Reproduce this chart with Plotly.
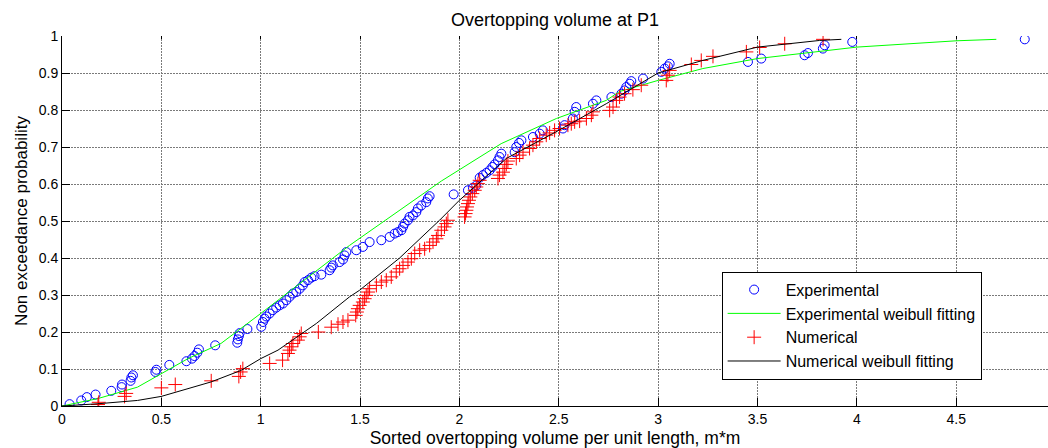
import plotly.graph_objects as go

# ---------------- data ----------------
exp_x = [0.038, 0.097, 0.125, 0.169, 0.248, 0.300, 0.302, 0.345, 0.349, 0.357,
         0.470, 0.475, 0.540, 0.626, 0.654, 0.667, 0.681, 0.689, 0.771, 0.882,
         0.885, 0.890, 0.894, 0.933, 1.003, 1.011, 1.020, 1.028, 1.045, 1.061,
         1.078, 1.095, 1.112, 1.129, 1.145, 1.162, 1.179, 1.196, 1.212, 1.221,
         1.238, 1.255, 1.271, 1.305, 1.347, 1.355, 1.363, 1.397, 1.414, 1.422,
         1.431, 1.481, 1.514, 1.548, 1.607, 1.649, 1.674, 1.690, 1.708, 1.716,
         1.724, 1.741, 1.749, 1.766, 1.783, 1.791, 1.808, 1.833, 1.841, 1.850,
         1.971, 2.043, 2.068, 2.085, 2.102, 2.118, 2.135, 2.152, 2.166, 2.177,
         2.194, 2.202, 2.211, 2.278, 2.286, 2.300, 2.312, 2.370, 2.404, 2.420,
         2.521, 2.529, 2.571, 2.580, 2.588, 2.672, 2.689, 2.765, 2.815, 2.831,
         2.840, 2.857, 2.865, 2.924, 3.016, 3.033, 3.049, 3.058, 3.452, 3.519,
         3.737, 3.754, 3.829, 3.838, 3.977, 4.845]
exp_y = [0.005, 0.015, 0.024, 0.031, 0.041, 0.051, 0.058, 0.068, 0.077, 0.083,
         0.092, 0.098, 0.111, 0.121, 0.128, 0.135, 0.144, 0.153, 0.164, 0.171,
         0.180, 0.189, 0.197, 0.208, 0.214, 0.227, 0.236, 0.242, 0.250, 0.259,
         0.266, 0.272, 0.277, 0.286, 0.295, 0.304, 0.308, 0.317, 0.326, 0.335,
         0.340, 0.347, 0.351, 0.355, 0.367, 0.374, 0.380, 0.389, 0.396, 0.407,
         0.416, 0.421, 0.430, 0.443, 0.448, 0.457, 0.466, 0.470, 0.475, 0.484,
         0.493, 0.502, 0.511, 0.515, 0.524, 0.534, 0.542, 0.551, 0.561, 0.567,
         0.572, 0.583, 0.590, 0.596, 0.617, 0.624, 0.630, 0.637, 0.646, 0.653,
         0.664, 0.673, 0.682, 0.686, 0.700, 0.711, 0.718, 0.727, 0.736, 0.745,
         0.750, 0.759, 0.777, 0.795, 0.808, 0.817, 0.826, 0.835, 0.844, 0.853,
         0.862, 0.871, 0.878, 0.885, 0.903, 0.912, 0.918, 0.925, 0.930, 0.939,
         0.948, 0.954, 0.966, 0.975, 0.984, 0.991]

num_x = [0.181, 0.185, 0.315, 0.323, 0.500, 0.570, 0.751, 0.890, 0.899, 0.910,
         1.045, 1.110, 1.137, 1.145, 1.154, 1.162, 1.187, 1.196, 1.204, 1.290,
         1.355, 1.389, 1.414, 1.439, 1.478, 1.484, 1.489, 1.498, 1.514, 1.523,
         1.531, 1.540, 1.548, 1.582, 1.607, 1.632, 1.657, 1.682, 1.699, 1.716,
         1.741, 1.758, 1.775, 1.800, 1.825, 1.850, 1.867, 1.884, 1.892, 1.909,
         1.925, 1.934, 1.942, 2.026, 2.031, 2.035, 2.038, 2.043, 2.048, 2.055,
         2.065, 2.077, 2.085, 2.093, 2.102, 2.194, 2.202, 2.219, 2.228, 2.236,
         2.244, 2.286, 2.303, 2.320, 2.353, 2.370, 2.387, 2.404, 2.437, 2.454,
         2.479, 2.504, 2.546, 2.563, 2.580, 2.605, 2.639, 2.664, 2.672, 2.756,
         2.773, 2.790, 2.806, 2.831, 2.873, 2.915, 3.041, 3.049, 3.058, 3.167,
         3.217, 3.276, 3.444, 3.511, 3.637, 3.830]
num_y = [0.004, 0.010, 0.026, 0.034, 0.049, 0.058, 0.068, 0.080, 0.092, 0.101,
         0.115, 0.124, 0.142, 0.151, 0.160, 0.169, 0.178, 0.187, 0.196, 0.200,
         0.213, 0.221, 0.227, 0.232, 0.245, 0.254, 0.263, 0.272, 0.281, 0.290,
         0.299, 0.308, 0.317, 0.326, 0.335, 0.340, 0.349, 0.362, 0.371, 0.380,
         0.389, 0.398, 0.412, 0.421, 0.425, 0.434, 0.443, 0.452, 0.461, 0.475,
         0.484, 0.493, 0.502, 0.511, 0.520, 0.529, 0.538, 0.547, 0.556, 0.565,
         0.574, 0.583, 0.592, 0.601, 0.610, 0.615, 0.624, 0.632, 0.642, 0.653,
         0.662, 0.669, 0.678, 0.686, 0.696, 0.705, 0.714, 0.723, 0.732, 0.738,
         0.745, 0.750, 0.759, 0.763, 0.768, 0.770, 0.777, 0.786, 0.795, 0.799,
         0.808, 0.826, 0.835, 0.844, 0.855, 0.867, 0.880, 0.894, 0.907, 0.923,
         0.934, 0.945, 0.957, 0.969, 0.979, 0.991]

expfit_x = [0, 0.18, 0.38, 0.533, 0.634, 0.80, 1.0, 1.447, 1.615, 1.909, 2.21,
            2.488, 2.739, 2.806, 3.0, 3.225, 3.5, 3.813, 4.0, 4.5, 4.702]
expfit_y = [0, 0.020, 0.051, 0.097, 0.128, 0.169, 0.250, 0.434, 0.497, 0.608, 0.709,
            0.777, 0.826, 0.850, 0.880, 0.912, 0.939, 0.959, 0.970, 0.987, 0.991]

numfit_x = [0, 0.18, 0.38, 0.5, 0.75, 0.90, 1.0, 1.087, 1.28, 1.447, 1.498, 1.699,
            1.9, 2.0, 2.236, 2.5, 2.739, 2.84, 3.0, 3.225, 3.5, 3.813, 3.922]
numfit_y = [0, 0.006, 0.015, 0.026, 0.065, 0.096, 0.128, 0.151, 0.223, 0.295, 0.313,
            0.400, 0.502, 0.556, 0.669, 0.745, 0.817, 0.849, 0.900, 0.934, 0.970,
            0.988, 0.991]

title_text = "Overtopping volume at P1"
x_label = "Sorted overtopping volume per unit length, m*m"
y_label = "Non exceedance probability"
names = ["Experimental", "Experimental weibull fitting", "Numerical", "Numerical weibull fitting"]

FONT = "Liberation Sans, Arial, sans-serif"
GRID = "#7a7a7a"

fig = go.Figure()
fig.add_trace(go.Scatter(x=exp_x, y=exp_y, mode="markers", name=names[0],
                         marker=dict(symbol="circle-open", size=9, color="#0000ff",
                                     line=dict(width=1, color="#0000ff"))))
fig.add_trace(go.Scatter(x=expfit_x, y=expfit_y, mode="lines", name=names[1],
                         line=dict(color="#00ff00", width=1)))
fig.add_trace(go.Scatter(x=num_x, y=num_y, mode="markers", name=names[2],
                         marker=dict(symbol="cross-thin-open", size=10, color="#ff0000",
                                     line=dict(width=1, color="#ff0000"))))
fig.add_trace(go.Scatter(x=numfit_x, y=numfit_y, mode="lines", name=names[3],
                         line=dict(color="#000000", width=1)))
# invisible helper for the short top ticks
fig.add_trace(go.Scatter(x=[], y=[], xaxis="x2", showlegend=False, hoverinfo="skip"))

fig.update_layout(
    width=1048, height=448,
    margin=dict(l=62, r=0, t=36, b=42),
    paper_bgcolor="white", plot_bgcolor="white",
    font=dict(family=FONT, color="black", size=14),
    title=dict(text=title_text, x=0.5, xref="paper", xanchor="center",
               y=1 - 20 / 448, yref="container", yanchor="middle",
               font=dict(size=18, family=FONT, color="black")),
    xaxis=dict(range=[0, 4.962], dtick=0.5, tick0=0, showline=True, linecolor="black",
               linewidth=1, ticks="inside", ticklen=8, tickwidth=1, tickcolor="black",
               showgrid=True, gridcolor=GRID, griddash="2px,1px", gridwidth=1,
               zeroline=False, tickfont=dict(size=14),
               title=dict(text=x_label, font=dict(size=17.5), standoff=8)),
    xaxis2=dict(overlaying="x", matches="x", side="top", range=[0, 4.962], dtick=0.5,
                tick0=0, ticks="inside", ticklen=3, tickcolor="black", showline=False,
                showgrid=False, showticklabels=False, zeroline=False),
    yaxis=dict(range=[0, 1], dtick=0.1, tick0=0, showline=True, linecolor="black",
               linewidth=1, ticks="inside", ticklen=8, tickwidth=1, tickcolor="black",
               showgrid=True, gridcolor=GRID, griddash="2px,1px", gridwidth=1,
               zeroline=False, tickfont=dict(size=14),
               title=dict(text=y_label, font=dict(size=17), standoff=6)),
    legend=dict(x=0.669, y=0.363, xanchor="left", yanchor="top", xref="paper", yref="paper",
                bgcolor="white", bordercolor="black", borderwidth=1,
                font=dict(size=16, family=FONT), itemwidth=53, tracegroupgap=0),
    showlegend=True,
)

fig.write_html("out.html")
